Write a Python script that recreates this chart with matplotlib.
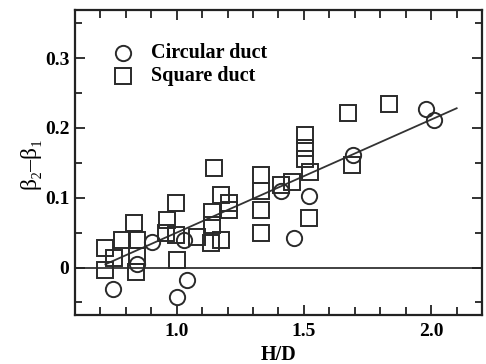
import matplotlib
matplotlib.use("Agg")
import matplotlib.pyplot as plt
import numpy as np
from matplotlib.ticker import MultipleLocator, FixedFormatter, FixedLocator

plt.rcParams['font.family'] = ['Liberation Serif', 'DejaVu Serif']

# Circular duct data
circ_x = [0.751, 0.904, 0.845, 1.029, 1.000, 1.042, 1.41, 1.462, 1.52, 1.692, 1.98, 2.01]
circ_y = [-0.031, 0.037, 0.005, 0.040, -0.042, -0.018, 0.109, 0.042, 0.103, 0.161, 0.227, 0.212]

# Square duct data
sq_x = [0.996, 0.961, 0.957, 0.996, 0.832, 0.786, 0.845, 0.720, 0.753, 0.845, 0.720, 0.839, 1.003,
        1.147, 1.173, 1.206, 1.206, 1.140, 1.140, 1.081, 1.134, 1.173,
        1.33, 1.33, 1.33, 1.33, 1.505, 1.505, 1.505, 1.524, 1.455, 1.41, 1.52,
        1.69, 1.673, 1.834]
sq_y = [0.092, 0.068, 0.049, 0.047, 0.064, 0.040, 0.040, 0.028, 0.0135, 0.016, -0.003, -0.006, 0.011,
        0.142, 0.104, 0.092, 0.083, 0.080, 0.061, 0.044, 0.035, 0.040,
        0.133, 0.109, 0.083, 0.049, 0.190, 0.171, 0.155, 0.1375, 0.123, 0.118, 0.071,
        0.147, 0.221, 0.234]

# Fitted line
fit_x = [0.72, 2.10]
fit_slope = 0.162
fit_intercept = 0.050 - 0.162 * 1.0

fig = plt.figure(figsize=(4.86, 3.64), dpi=100)
ax = fig.add_axes([0.154, 0.1346, 0.838, 0.838])

ax.axhline(0, color='#333333', lw=1.3, zorder=1)
fx = np.array(fit_x)
ax.plot(fx, fit_intercept + fit_slope * fx, color='#333333', lw=1.3, zorder=1)

mk = dict(ls='none', ms=11, mfc='none', mec='#2a2a2a', mew=1.4, zorder=3)
ax.plot(sq_x, sq_y, marker='s', **mk)
ax.plot(circ_x, circ_y, marker='o', **mk)

ax.set_xlim(0.6, 2.2)
ax.set_ylim(-0.068, 0.369)

ax.xaxis.set_major_locator(FixedLocator([1.0, 1.5, 2.0]))
ax.xaxis.set_minor_locator(MultipleLocator(0.1))
ax.yaxis.set_major_locator(FixedLocator([0.0, 0.1, 0.2, 0.3]))
ax.yaxis.set_major_formatter(FixedFormatter(['0', '0.1', '0.2', '0.3']))
ax.yaxis.set_minor_locator(MultipleLocator(0.05))

ax.tick_params(which='both', direction='in', top=True, right=True, width=1.3, color='#222222')
ax.tick_params(which='major', length=7)
ax.tick_params(which='minor', length=5)
ax.tick_params(axis='x', which='minor', length=6)
for lab in ax.get_xticklabels() + ax.get_yticklabels():
    lab.set_fontweight('bold')
    lab.set_fontsize(14)
ax.tick_params(axis='x', pad=6)
ax.tick_params(axis='y', pad=4)

for s in ax.spines.values():
    s.set_linewidth(1.6)
    s.set_color('#222222')

ax.set_xlabel('H/D', fontsize=14.5, fontweight='bold', labelpad=3)
ax.set_ylabel('β₂–β₁', fontsize=17, family=['Liberation Serif', 'DejaVu Serif'], labelpad=3)

# legend
ax.plot([0.79], [0.3076], marker='o', **mk)
ax.plot([0.79], [0.2747], marker='s', **mk)
ax.text(0.898, 0.3076, 'Circular duct', fontsize=14.5, fontweight='bold', va='center', ha='left')
ax.text(0.898, 0.2747, 'Square duct', fontsize=14.5, fontweight='bold', va='center', ha='left')

fig.savefig('out.png', dpi=100)
